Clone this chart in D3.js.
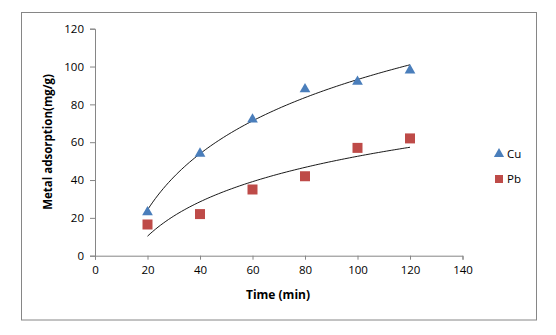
<!DOCTYPE html>
<html lang="en">
  <head>
    <meta charset="UTF-8" />
    <script src="https://d3js.org/d3.v7.min.js"></script>
    <title>Metal adsorption</title>
    <style>
      body { margin: 0; background: #fff; }
      text { font-family: "Open Sans", sans-serif; }
    </style>
  </head>
  <body>
    <div id="chart"></div>
    <script>
      // adsorption data
      const times = [20, 40, 60, 80, 100, 120];
      const cuValues = [23, 54, 72, 88, 92, 98];
      const pbValues = [16.5, 22, 35, 42, 57, 62];
      const xTicks = [0, 20, 40, 60, 80, 100, 120, 140];
      const yTicks = [0, 20, 40, 60, 80, 100, 120];

      const W = 556, H = 335;
      const svg = d3.select("#chart").append("svg")
        .attr("width", W)
        .attr("height", H);

      // chart area border
      svg.append("rect")
        .attr("x", 21.5).attr("y", 12.5)
        .attr("width", 515).attr("height", 307.5)
        .attr("fill", "none")
        .attr("stroke", "#868686");

      const x = d3.scaleLinear().domain([0, 140]).range([95, 462.5]);
      const y = d3.scaleLinear().domain([0, 120]).range([255.7, 28.7]);

      const axisColor = "#868686";

      const gx = svg.append("g")
        .attr("transform", "translate(0,255.7)")
        .call(d3.axisBottom(x).tickValues(xTicks).tickSize(4).tickPadding(6));
      const gy = svg.append("g")
        .attr("transform", "translate(95,0)")
        .call(d3.axisLeft(y).tickValues(yTicks).tickSize(5).tickPadding(6));

      [gx, gy].forEach(g => {
        g.selectAll("path, line").attr("stroke", axisColor);
        g.selectAll("text")
          .attr("fill", "#000")
          .style("font-size", "11.5px")
          .style("font-family", "'Open Sans', sans-serif");
      });

      // logarithmic trendline: y = a ln(x) + b, least squares
      function logFit(xs, ys) {
        const lx = xs.map(Math.log);
        const mx = d3.mean(lx), my = d3.mean(ys);
        const sxy = d3.sum(lx, (v, i) => (v - mx) * (ys[i] - my));
        const sxx = d3.sum(lx, v => (v - mx) * (v - mx));
        const a = sxy / sxx;
        return t => a * Math.log(t) + (my - a * mx);
      }

      const line = d3.line().x(d => x(d[0])).y(d => y(d[1]));
      [cuValues, pbValues].forEach(vals => {
        const f = logFit(times, vals);
        const pts = d3.range(20, 120.5, 1).map(t => [t, f(t)]);
        svg.append("path")
          .attr("d", line(pts))
          .attr("fill", "none")
          .attr("stroke", "#000")
          .attr("stroke-width", 0.9);
      });

      const cuColor = "#4a7ebb", pbColor = "#be4b48";
      const tri = d3.symbol().type(d3.symbolTriangle).size(50);
      const sq = d3.symbol().type(d3.symbolSquare).size(100);

      svg.selectAll(".cu")
        .data(times.map((t, i) => [t, cuValues[i]]))
        .join("path")
        .attr("class", "cu")
        .attr("d", tri)
        .attr("transform", d => `translate(${x(d[0])},${y(d[1])})`)
        .attr("fill", cuColor);

      svg.selectAll(".pb")
        .data(times.map((t, i) => [t, pbValues[i]]))
        .join("path")
        .attr("class", "pb")
        .attr("d", sq)
        .attr("transform", d => `translate(${x(d[0])},${y(d[1])})`)
        .attr("fill", pbColor);

      // axis titles
      svg.append("text")
        .attr("x", 278).attr("y", 299)
        .attr("text-anchor", "middle")
        .style("font-size", "12px")
        .style("font-weight", "bold")
        .text("Time (min)");

      svg.append("text")
        .attr("transform", "translate(52,142) rotate(-90)")
        .attr("text-anchor", "middle")
        .style("font-size", "11.5px")
        .style("font-weight", "bold")
        .text("Metal adsorption(mg/g)");

      // legend
      const legend = [
        { name: "Cu", sym: d3.symbol().type(d3.symbolTriangle).size(45), color: cuColor, y: 154 },
        { name: "Pb", sym: d3.symbol().type(d3.symbolSquare).size(64), color: pbColor, y: 179 }
      ];
      legend.forEach(l => {
        svg.append("path")
          .attr("d", l.sym)
          .attr("transform", `translate(499,${l.y})`)
          .attr("fill", l.color);
        svg.append("text")
          .attr("x", 507).attr("y", l.y + 4)
          .style("font-size", "11.5px")
          .text(l.name);
      });
    </script>
  </body>
</html>
